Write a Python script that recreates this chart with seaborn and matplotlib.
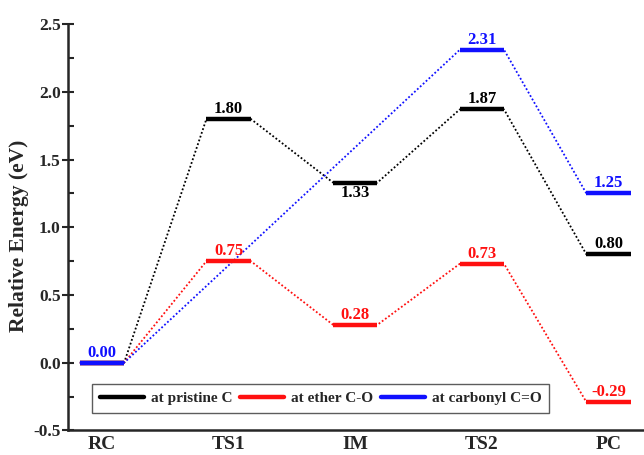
import numpy as np
import pandas as pd
import matplotlib
matplotlib.use("Agg")
import matplotlib.pyplot as plt
from matplotlib.lines import Line2D
import seaborn as sns

categories = ["RC", "TS1", "IM", "TS2", "PC"]
pristine = [0.00, 1.80, 1.33, 1.87, 0.80]
ether = [0.00, 0.75, 0.28, 0.73, -0.29]
carbonyl = [0.00, None, None, 2.31, 1.25]
series_names = ["at pristine C", "at ether C-O", "at carbonyl C=O"]
series_colors = ["#000000", "#ff1010", "#1010ff"]
# label placement: 1 above, -1 below, 0 none
pristine_pos = [0, 1, -1, 1, 1]
ether_pos = [0, 1, 1, 1, 1]
carbonyl_pos = [1, 0, 0, 1, 1]

sns.set_style("ticks")
plt.rcParams["font.family"] = ["Liberation Serif", "DejaVu Serif"]
plt.rcParams["font.weight"] = "bold"

fig = plt.figure(figsize=(6.44, 4.55), dpi=100)
ax = fig.add_axes([0.106, 0.054, 0.894, 0.893])

half = 0.175
all_series = [pristine, ether, carbonyl]
all_pos = [pristine_pos, ether_pos, carbonyl_pos]

for vals, col, pos in zip(all_series, series_colors, all_pos):
    xs, ys = [], []
    for i, v in enumerate(vals):
        if v is None:
            continue
        xs += [i - half, i + half]
        ys += [v, v]
    df = pd.DataFrame({"x": xs, "y": ys})
    sns.lineplot(data=df, x="x", y="y", ax=ax, color=col, lw=1.3,
                 linestyle=(0, (1, 1.2)), sort=False, estimator=None)
    for i, v in enumerate(vals):
        if v is None:
            continue
        ax.hlines(v, i - half, i + half, color=col, lw=3.2, zorder=5)
        if pos[i] > 0:
            ax.annotate(f"{v:.2f}", (i, v), xytext=(0, 1.5), textcoords="offset points",
                        ha="center", va="bottom", color=col, fontsize=12, fontweight="bold")
        elif pos[i] < 0:
            ax.annotate(f"{v:.2f}", (i, v), xytext=(0, -2), textcoords="offset points",
                        ha="center", va="top", color=col, fontsize=12, fontweight="bold")

ax.set_xlim(-0.266, 4.28)
ax.set_ylim(-0.5, 2.5)
ax.set_xticks(range(len(categories)))
ax.set_xticklabels(categories, fontsize=14, fontweight="bold")
ax.tick_params(axis="x", length=0, pad=4)
ax.set_yticks(np.arange(-0.5, 2.51, 0.5))
ax.set_yticklabels([f"{t:.1f}" for t in np.arange(-0.5, 2.51, 0.5)], fontsize=12.5, fontweight="bold")
ax.set_yticks(np.arange(-0.25, 2.5, 0.5), minor=True)
ax.tick_params(axis="y", which="major", length=9, width=1.5, direction="inout", pad=1)
ax.tick_params(axis="y", which="minor", length=4, width=1.5, direction="in")
ax.set_xlabel("")
ax.set_ylabel("Relative Energy (eV)", fontsize=15.5, fontweight="bold")
ax.yaxis.set_label_coords(-0.068, 0.48)
for s in ["top", "right"]:
    ax.spines[s].set_visible(False)
for s in ["left", "bottom"]:
    ax.spines[s].set_linewidth(1.8)

handles = [Line2D([0], [0], color=c, lw=3.2) for c in series_colors]
leg = ax.legend(handles, series_names, ncol=3, loc="lower left",
                bbox_to_anchor=(0.041, 0.043), borderaxespad=0, frameon=True, fancybox=False,
                handlelength=2.9, columnspacing=0.5, handletextpad=0.45,
                borderpad=0.5, prop={"size": 11, "weight": "bold"})
leg.get_frame().set_edgecolor("#333333")
leg.get_frame().set_linewidth(1.0)

fig.savefig("out.png", dpi=100)
